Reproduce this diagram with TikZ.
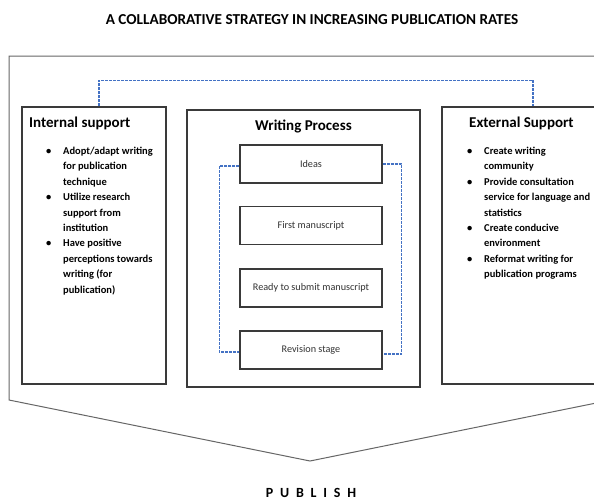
\documentclass[tikz,border=0pt]{standalone}
\usepackage{fontspec}
\setmainfont{Carlito}
\definecolor{linkblue}{HTML}{4472C4}
\definecolor{edge}{HTML}{3A3A3A}
\tikzset{
  outerline/.style={draw=black!60, line width=1pt},
  panel/.style={draw=edge, line width=1.3pt, fill=white, inner sep=0pt},
  stagebox/.style={draw=edge, line width=1.3pt, fill=white, minimum width=142pt, minimum height=38pt, inner sep=0pt, font=\fontsize{10.2}{12}\selectfont, text=black!80},
  heading/.style={inner sep=0pt, font=\fontsize{15}{18}\selectfont\bfseries},
  bullets/.style={inner sep=0pt, anchor=base west, font=\fontsize{10.5}{15.4}\selectfont\bfseries},
  link/.style={draw=linkblue, line width=1.4pt, dash pattern=on 3pt off 1pt}
}
\newcommand{\bl}{\textbullet}
\begin{document}
\begin{tikzpicture}[x=1pt,y=-1pt]
\useasboundingbox (0,0) rectangle (594,499);
\clip (0,0) rectangle (594,499);
\fill[white] (0,0) rectangle (594,499);
% title
\node[inner sep=0pt, anchor=base, font=\fontsize{15.2}{18}\selectfont\bfseries] (title) at (312,24) {A COLLABORATIVE STRATEGY IN INCREASING PUBLICATION RATES};
% outer arrow shape
\draw[outerline] (9,56) -- (611,56) -- (611,400) -- (310,461) -- (9,400) -- cycle;
% panels
\node[panel, minimum width=144pt, minimum height=277pt] (internal) at (94,245.5) {};
\node[panel, minimum width=233pt, minimum height=277pt] (writing) at (303.5,248.5) {};
\node[panel, minimum width=178pt, minimum height=277pt] (external) at (531,245.5) {};
% headings
\node[heading, anchor=base west] (inth) at (29,127) {Internal support};
\node[heading, anchor=base] (wrh) at (303.5,130) {Writing Process};
\node[heading, anchor=base west] (exth) at (469,127) {External Support};
% bullet lists
\node[bullets] (intlist) at (46,154.5) {\begin{tabular}[t]{@{}p{17pt}@{}l@{}}
\bl & Adopt/adapt writing\\
 & for publication\\
 & technique\\
\bl & Utilize research\\
 & support from\\
 & institution\\
\bl & Have positive\\
 & perceptions towards\\
 & writing (for\\
 & publication)
\end{tabular}};
\node[bullets] (extlist) at (467,154.5) {\begin{tabular}[t]{@{}p{17pt}@{}l@{}}
\bl & Create writing\\
 & community\\
\bl & Provide consultation\\
 & service for language and\\
 & statistics\\
\bl & Create conducive\\
 & environment\\
\bl & Reformat writing for\\
 & publication programs
\end{tabular}};
% stages
\node[stagebox] (ideas) at (311,164) {Ideas};
\node[stagebox] (first) at (311,225.5) {First manuscript};
\node[stagebox] (ready) at (311,288) {Ready to submit manuscript};
\node[stagebox] (revision) at (311,350) {Revision stage};
% connectors
\draw[link] ([xshift=5pt]internal.north) -- ++(0,-26) -| ([xshift=2pt]external.north);
\draw[link] ([yshift=-2pt]ideas.west) -- ++(-20,0) |- ([yshift=-2pt]revision.west);
\draw[link] ([yshift=0pt]ideas.east) -- ++(19,0) |- ([yshift=-4pt]revision.east);
% publish
\node[inner sep=0pt, anchor=base, font=\fontsize{14}{16}\selectfont\bfseries] (publish) at (311,497) {P\hspace{6.8pt}U\hspace{6.8pt}B\hspace{6.8pt}L\hspace{6.8pt}I\hspace{6.8pt}S\hspace{6.8pt}H};
\end{tikzpicture}
\end{document}
